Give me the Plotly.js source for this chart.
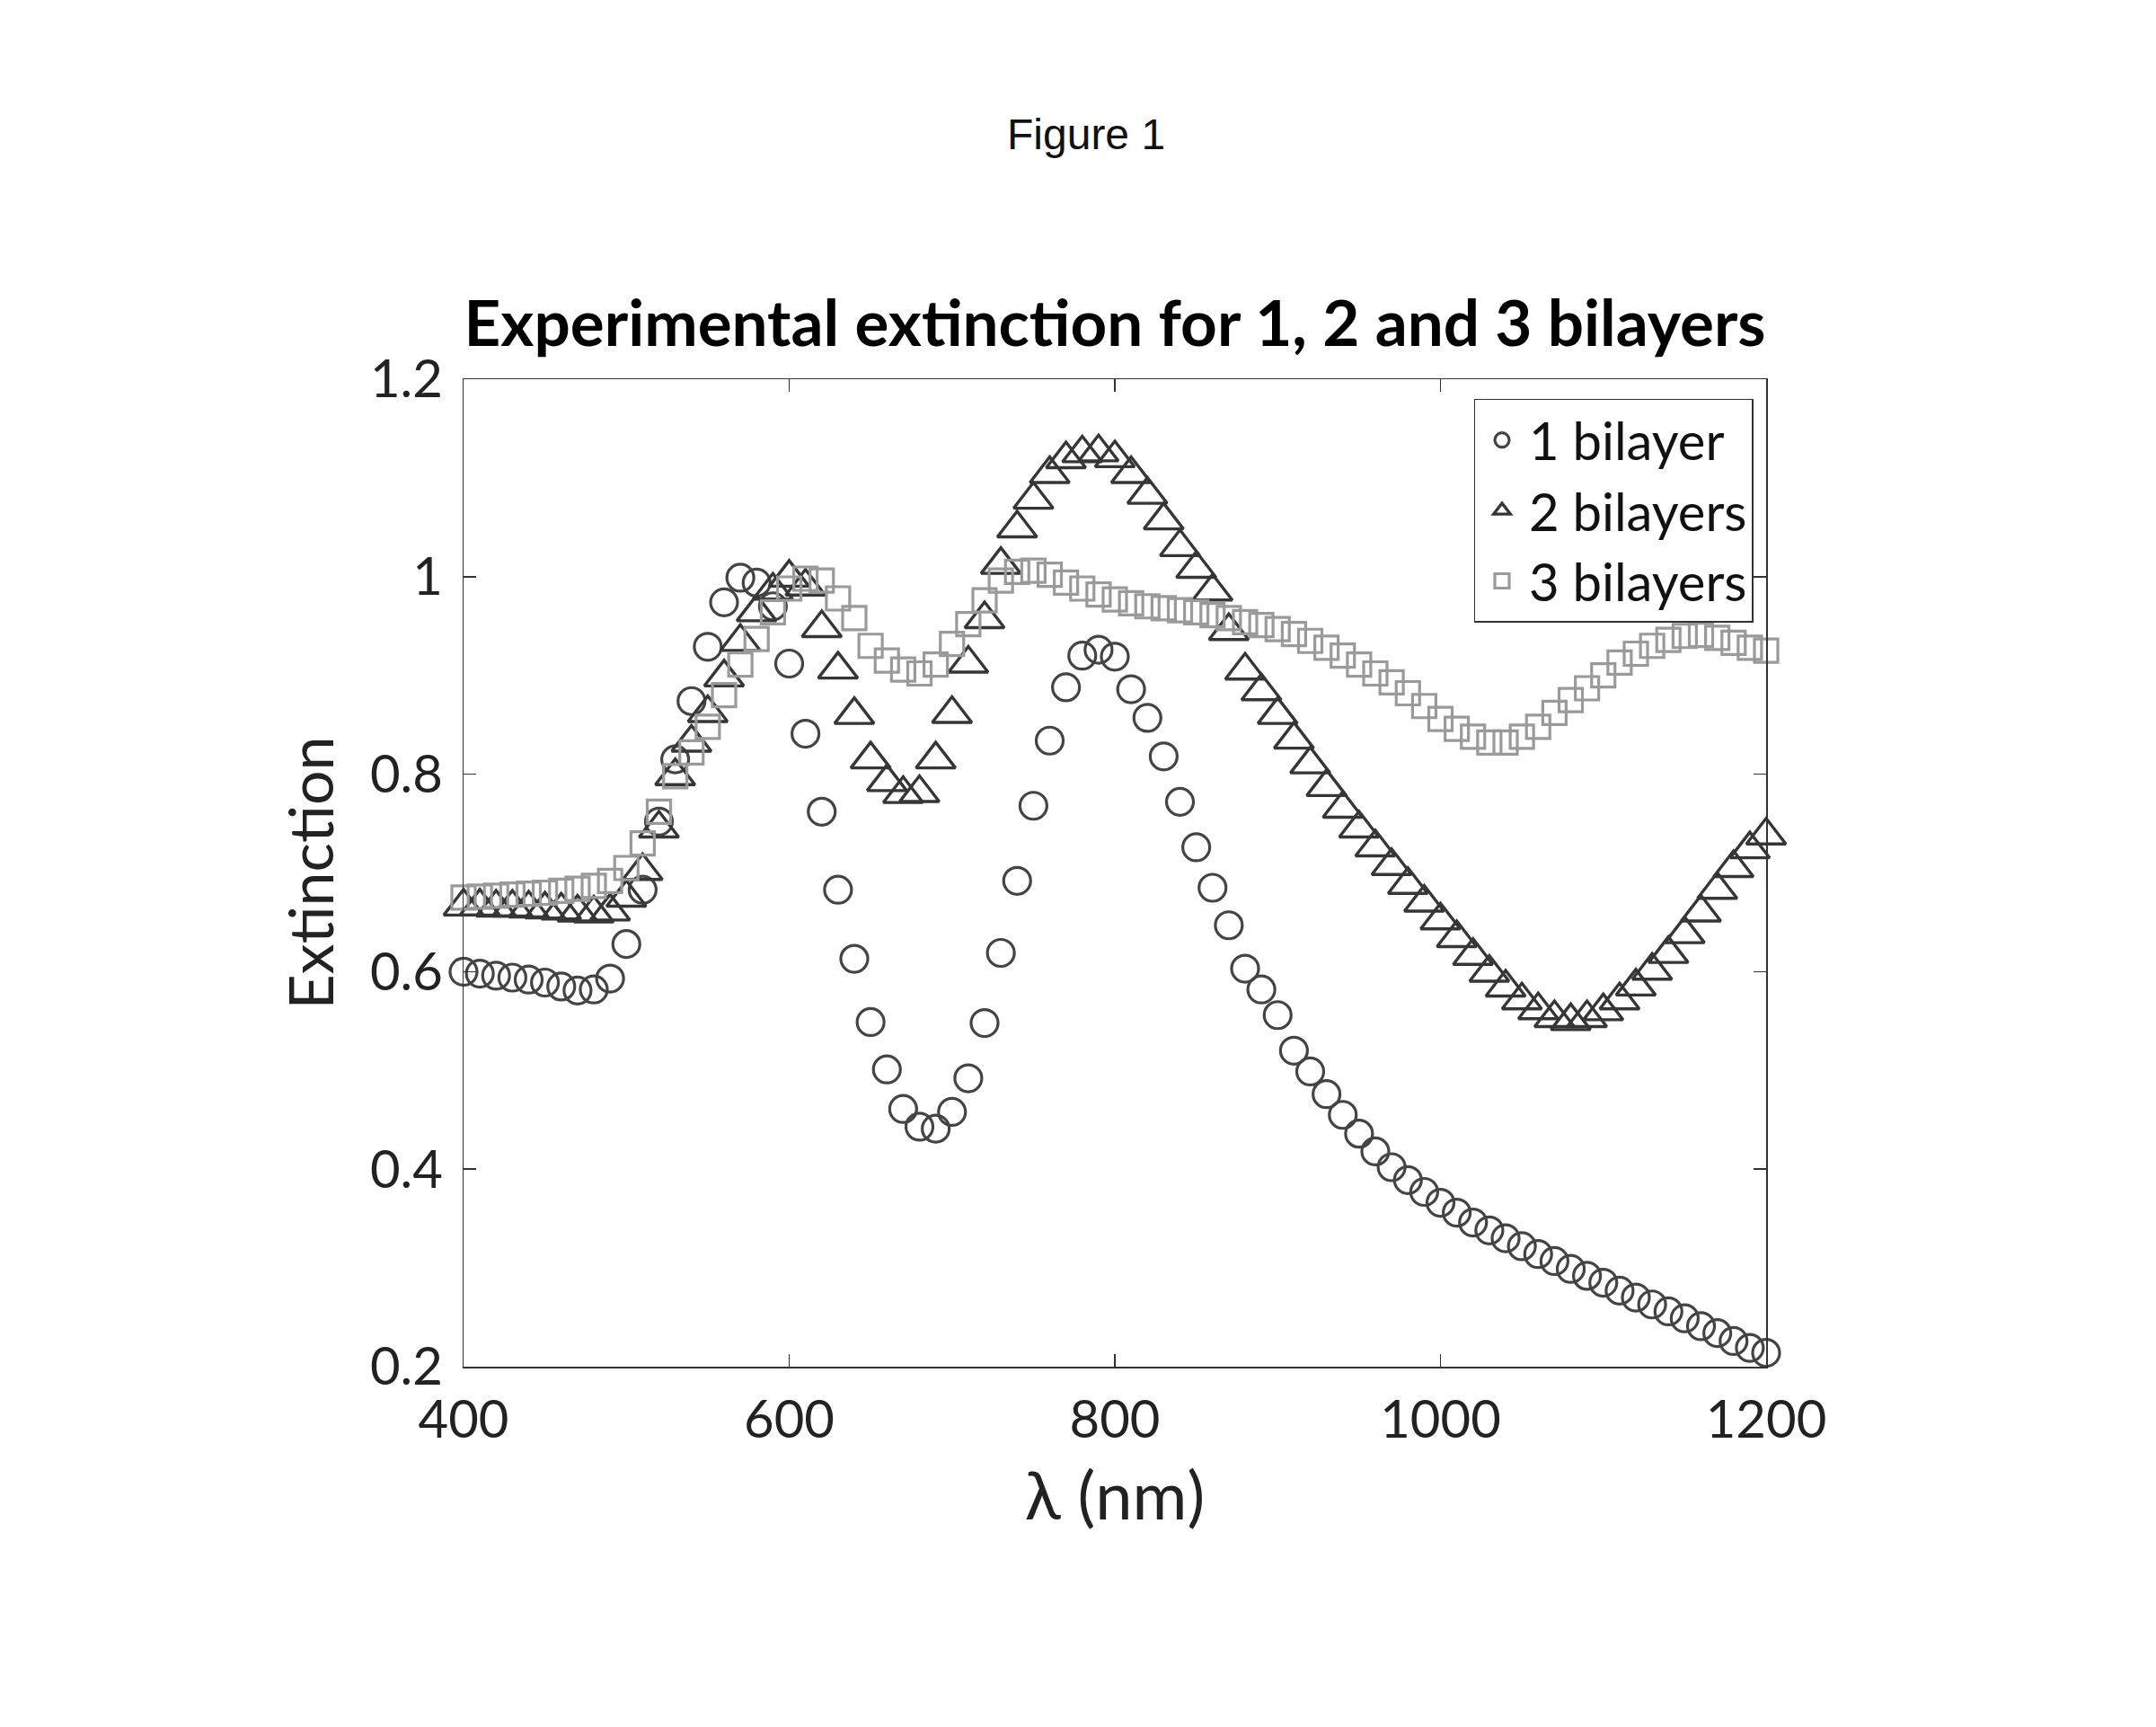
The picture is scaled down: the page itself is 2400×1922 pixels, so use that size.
<!DOCTYPE html>
<html>
<head>
<meta charset="utf-8">
<script src="https://cdn.plot.ly/plotly-3.0.1.min.js"></script>
<style>
  html, body { margin: 0; padding: 0; background: #ffffff; }
  #chart { width: 2400px; height: 1922px; }
</style>
</head>
<body>
<div id="chart"></div>
<script>
// Wavelength grid (nm)
const wavelength = [
  400, 410, 420, 430, 440, 450, 460, 470, 480, 490,
  500, 510, 520, 530, 540, 550, 560, 570, 580, 590,
  600, 610, 620, 630, 640, 650, 660, 670, 680, 690,
  700, 710, 720, 730, 740, 750, 760, 770, 780, 790,
  800, 810, 820, 830, 840, 850, 860, 870, 880, 890,
  900, 910, 920, 930, 940, 950, 960, 970, 980, 990,
  1000, 1010, 1020, 1030, 1040, 1050, 1060, 1070, 1080, 1090,
  1100, 1110, 1120, 1130, 1140, 1150, 1160, 1170, 1180, 1190,
  1200
];

// Measured extinction, one bilayer
const oneBilayer = [
  0.600, 0.598, 0.596, 0.594, 0.592, 0.589, 0.585, 0.581, 0.582, 0.593,
  0.628, 0.683, 0.752, 0.815, 0.874, 0.929, 0.974, 0.999, 0.994, 0.970,
  0.912, 0.841, 0.762, 0.683, 0.613, 0.549, 0.501, 0.461, 0.443, 0.441,
  0.458, 0.492, 0.548, 0.619, 0.692, 0.768, 0.834, 0.888, 0.920, 0.926,
  0.919, 0.886, 0.857, 0.818, 0.772, 0.726, 0.685, 0.647, 0.603, 0.582,
  0.556, 0.520, 0.499, 0.476, 0.455, 0.436, 0.418, 0.402, 0.389, 0.377,
  0.366, 0.356, 0.346, 0.338, 0.330, 0.322, 0.314, 0.307, 0.299, 0.292,
  0.285, 0.277, 0.270, 0.263, 0.256, 0.249, 0.241, 0.234, 0.226, 0.219,
  0.214
];

// Measured extinction, two bilayers
const twoBilayers = [
  0.666, 0.666, 0.665, 0.665, 0.664, 0.663, 0.662, 0.660, 0.659, 0.661,
  0.675, 0.702, 0.745, 0.798, 0.832, 0.862, 0.898, 0.934, 0.964, 0.986,
  0.999, 0.990, 0.948, 0.906, 0.860, 0.815, 0.792, 0.780, 0.781, 0.815,
  0.861, 0.912, 0.957, 1.012, 1.049, 1.078, 1.104, 1.119, 1.125, 1.126,
  1.120, 1.104, 1.083, 1.057, 1.030, 1.008, 0.985, 0.945, 0.905, 0.884,
  0.860, 0.835, 0.810, 0.787, 0.765, 0.745, 0.726, 0.707, 0.688, 0.670,
  0.652, 0.634, 0.616, 0.599, 0.584, 0.571, 0.561, 0.553, 0.550, 0.553,
  0.560, 0.571, 0.585, 0.601, 0.618, 0.638, 0.660, 0.683, 0.705, 0.724,
  0.738
];

// Measured extinction, three bilayers
const threeBilayers = [
  0.675, 0.676, 0.677, 0.678, 0.679, 0.680, 0.682, 0.684, 0.687, 0.692,
  0.705, 0.730, 0.762, 0.798, 0.822, 0.848, 0.880, 0.911, 0.937, 0.964,
  0.988, 0.998, 0.996, 0.978, 0.958, 0.930, 0.915, 0.906, 0.902, 0.911,
  0.932, 0.952, 0.976, 0.996, 1.005, 1.006, 1.002, 0.994, 0.988, 0.982,
  0.977, 0.973, 0.970, 0.968, 0.966, 0.964, 0.961, 0.958, 0.954, 0.951,
  0.947, 0.942, 0.935, 0.928, 0.920, 0.911, 0.902, 0.893, 0.882, 0.869,
  0.856, 0.846, 0.838, 0.832, 0.832, 0.838, 0.848, 0.862, 0.875, 0.887,
  0.900, 0.913, 0.922, 0.930, 0.936, 0.940, 0.941, 0.938, 0.933, 0.928,
  0.925
];

const seriesNames = ['1 bilayer', '2 bilayers', '3 bilayers'];
const xTicks = [400, 600, 800, 1000, 1200];
const yTicks = [0.2, 0.4, 0.6, 0.8, 1.0, 1.2];

const FONT = 'Lato, "Open Sans", "DejaVu Sans", sans-serif';

function openMarkerTrace(name, y, symbol, size, color, width) {
  return {
    type: 'scatter',
    mode: 'markers',
    name: name,
    legendgroup: name,
    x: wavelength,
    y: y,
    cliponaxis: false,
    marker: {
      symbol: symbol,
      size: size,
      color: color,
      line: { color: color, width: width }
    }
  };
}

const traces = [
  openMarkerTrace(seriesNames[0], oneBilayer, 'circle-open', 30, '#444444', 3.2),
  openMarkerTrace(seriesNames[1], twoBilayers, 'triangle-up-open', 38, '#363636', 3.4),
  openMarkerTrace(seriesNames[2], threeBilayers, 'square-open', 26, '#9a9a9a', 3.2)
];

const axisCommon = {
  showline: true,
  mirror: 'ticks',
  linecolor: '#333333',
  linewidth: 1.5,
  ticks: 'inside',
  ticklen: 14,
  tickwidth: 1.5,
  tickcolor: '#333333',
  showgrid: false,
  zeroline: false,
  tickfont: { family: FONT, size: 58, color: '#222222' }
};

const layout = {
  width: 2400,
  height: 1922,
  margin: { l: 516, r: 434, t: 422, b: 401 },
  paper_bgcolor: '#ffffff',
  plot_bgcolor: '#ffffff',
  showlegend: true,
  title: {
    text: '<b>Experimental extinction for 1, 2 and 3 bilayers</b>',
    font: { family: FONT, size: 71, color: '#000000' },
    xref: 'paper',
    x: 0.5,
    xanchor: 'center',
    yref: 'container',
    y: 1 - 360 / 1922,
    yanchor: 'middle'
  },
  xaxis: Object.assign({}, axisCommon, {
    range: [400, 1200],
    tickvals: xTicks,
    ticktext: xTicks.map(String),
    ticklabelstandoff: 8,
    title: { text: 'λ (nm)', font: { family: FONT, size: 74, color: '#222222' }, standoff: 28 }
  }),
  yaxis: Object.assign({}, axisCommon, {
    range: [0.2, 1.2],
    tickvals: yTicks,
    ticktext: ['0.2', '0.4', '0.6', '0.8', '1', '1.2'],
    ticklabelstandoff: 10,
    title: { text: 'Extinction', font: { family: FONT, size: 68, color: '#222222' }, standoff: 18 }
  }),
  legend: {
    x: 0.99,
    y: 0.98,
    xanchor: 'right',
    yanchor: 'top',
    bgcolor: '#ffffff',
    bordercolor: '#333333',
    borderwidth: 1.5,
    font: { family: FONT, size: 58, color: '#111111' },
    itemsizing: 'trace',
    itemwidth: 50,
    tracegroupgap: 0
  },
  annotations: [{
    text: 'Figure 1',
    xref: 'paper',
    yref: 'paper',
    x: (1209 - 516) / 1450,
    y: (1521 - 150) / 1099,
    xanchor: 'center',
    yanchor: 'middle',
    showarrow: false,
    font: { family: '"Liberation Sans", Arial, sans-serif', size: 48, color: '#111111' }
  }]
};

Plotly.newPlot('chart', traces, layout, { displayModeBar: false, staticPlot: true });
</script>
</body>
</html>
